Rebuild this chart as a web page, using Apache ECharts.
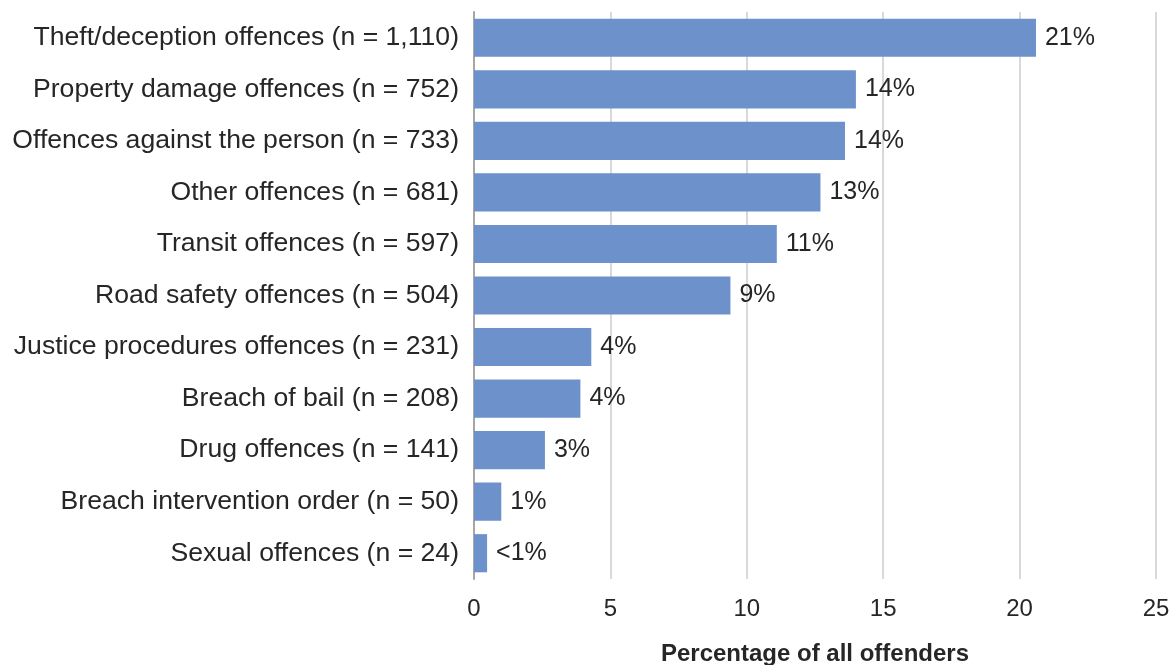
<!DOCTYPE html>
<html>
<head>
<meta charset="utf-8">
<script src="https://cdn.jsdelivr.net/npm/echarts@6/dist/echarts.min.js"></script>
<style>
  html, body { margin: 0; padding: 0; background: #ffffff; }
  #chart { width: 1174px; height: 665px; }
</style>
</head>
<body>
<div id="chart"></div>
<script>
// Offence categories, listed top to bottom
const categories = [
  'Theft/deception offences (n = 1,110)',
  'Property damage offences (n = 752)',
  'Offences against the person (n = 733)',
  'Other offences (n = 681)',
  'Transit offences (n = 597)',
  'Road safety offences (n = 504)',
  'Justice procedures offences (n = 231)',
  'Breach of bail (n = 208)',
  'Drug offences (n = 141)',
  'Breach intervention order (n = 50)',
  'Sexual offences (n = 24)'
];

// Share of all offenders (%)
const percentages = [20.6, 14.0, 13.6, 12.7, 11.1, 9.4, 4.3, 3.9, 2.6, 1.0, 0.48];

const axisTicks = [0, 5, 10, 15, 20, 25];

const FONT = '"Liberation Sans", Arial, sans-serif';
const TEXT = '#262626';

const chart = echarts.init(document.getElementById('chart'), null, { renderer: 'canvas' });

chart.setOption({
  animation: false,
  grid: {
    left: 474, right: 18, top: 12, bottom: 86,
    containLabel: false,
    outerBoundsMode: 'none'
  },
  xAxis: {
    type: 'value',
    min: axisTicks[0],
    max: axisTicks[axisTicks.length - 1],
    interval: axisTicks[1] - axisTicks[0],
    name: 'Percentage of all offenders',
    nameLocation: 'middle',
    nameGap: 63,
    nameTextStyle: { fontFamily: FONT, fontSize: 24, fontWeight: 'bold', color: TEXT },
    axisLine: { show: false },
    axisTick: { show: false },
    axisLabel: { fontFamily: FONT, fontSize: 24, color: TEXT, margin: 18 },
    splitLine: { show: true, lineStyle: { color: '#d9d9d9', width: 2 } }
  },
  yAxis: {
    type: 'category',
    inverse: true,
    data: categories,
    axisLine: { show: true, lineStyle: { color: '#a6a6a6', width: 2 } },
    axisTick: { show: false },
    axisLabel: { fontFamily: FONT, fontSize: 26.6, color: TEXT, margin: 15 }
  },
  series: [{
    type: 'bar',
    data: percentages,
    barCategoryGap: '26%',
    itemStyle: { color: '#6d91ca' },
    label: {
      show: true,
      position: 'right',
      distance: 9,
      fontFamily: FONT,
      fontSize: 25,
      color: TEXT,
      formatter: p => (p.value < 1 ? '<1%' : Math.round(p.value) + '%')
    }
  }]
});
</script>
</body>
</html>
